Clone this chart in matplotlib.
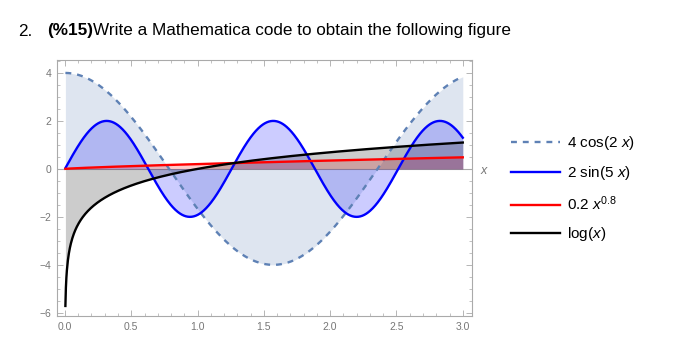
import numpy as np
import matplotlib.pyplot as plt
from matplotlib.ticker import MultipleLocator
from matplotlib.lines import Line2D

plt.rcParams['font.family'] = ['Liberation Sans', 'DejaVu Sans']
plt.rcParams['mathtext.fontset'] = 'custom'
plt.rcParams['mathtext.rm'] = 'Liberation Sans'
plt.rcParams['mathtext.it'] = 'Liberation Sans:italic'

# curves shown in the legend, sampled on the plotted range
labels = ['4 cos(2 $x$)', '2 sin(5 $x$)', '0.2 $x^{0.8}$', 'log($x$)']
colors = ['#5e81b5', '#0000ff', '#ff0000', '#000000']
styles = [(0, (2.5, 2.5)), '-', '-', '-']
x = np.linspace(0.0033, 3.0, 800)
curves = [4 * np.cos(2 * x), 2 * np.sin(5 * x), 0.2 * x ** 0.8, np.log(x)]
x_ticks = [0.0, 0.5, 1.0, 1.5, 2.0, 2.5, 3.0]
y_ticks = [-6, -4, -2, 0, 2, 4]

fig = plt.figure(figsize=(6.81, 3.57), dpi=100)
ax = fig.add_axes([0.0837, 0.115, 0.6095, 0.717])

for y, c, ls in zip(curves, colors, styles):
    ax.fill_between(x, 0, y, color=c, alpha=0.2, lw=0)
for y, c, ls in zip(curves, colors, styles):
    ax.plot(x, y, color=c, ls=ls, lw=1.7)

ax.axhline(0, color='#aaaaaa', lw=0.8, zorder=0)
ax.set_xlim(-0.06, 3.07)
ax.set_ylim(-6.13, 4.54)
ax.set_xticks(x_ticks)
ax.set_xticklabels(['%.1f' % t for t in x_ticks])
ax.set_yticks(y_ticks)
ax.set_yticklabels([str(t).replace('-', '\u2212') for t in y_ticks])
ax.xaxis.set_minor_locator(MultipleLocator(0.1))
ax.yaxis.set_minor_locator(MultipleLocator(0.5))
ax.tick_params(which='both', direction='in', top=True, right=True,
               colors='#aaaaaa', labelcolor='#777777', labelsize=7.5, pad=4)
ax.tick_params(which='major', length=4, width=0.6)
ax.tick_params(which='minor', length=2, width=0.5)
for s in ax.spines.values():
    s.set_color('#aaaaaa')
    s.set_linewidth(0.8)

fig.text(485 / 681, 1 - 171 / 357, '$x$', color='#777777', fontsize=9,
         ha='center', va='center')

handles = [Line2D([], [], color=c, ls=ls, lw=1.7) for c, ls in zip(colors, styles)]
fig.legend(handles, labels, loc='center left', bbox_to_anchor=(0.73, 0.472),
           frameon=False, fontsize=11, handlelength=3.2, handletextpad=0.5,
           labelspacing=0.8)

# heading: "2." then bold "(%15)" then the rest
r = fig.canvas.get_renderer()
fig.text(18 / 681, 1 - 31 / 357, '2.', fontsize=12.3, va='center')
t = fig.text(47 / 681, 1 - 31 / 357, '(%15)', fontsize=12.3, va='center',
             fontweight='bold')
bb = t.get_window_extent(r)
fig.text(bb.x1 / 681, 1 - 31 / 357, 'Write a Mathematica code to obtain the following figure',
         fontsize=12.3, va='center')

fig.savefig('out.png', dpi=100)
